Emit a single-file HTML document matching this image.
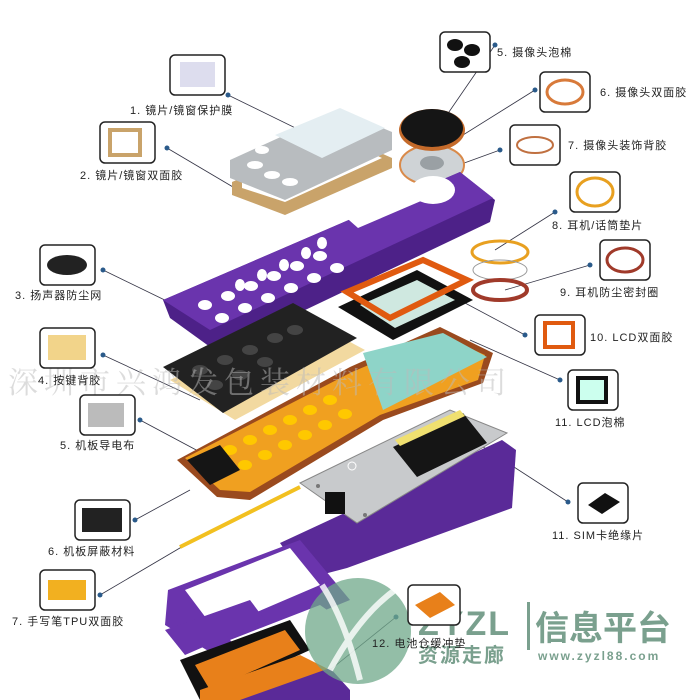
<!DOCTYPE html>
<html><head><meta charset="utf-8"><style>
body{margin:0;background:#fff;width:700px;height:700px;overflow:hidden}
svg{display:block}
text{font-family:"Liberation Sans","Noto Sans CJK SC",sans-serif;font-size:11px;fill:#222;letter-spacing:1px}
.b{fill:#fff;stroke:#222;stroke-width:1.5}
.l{stroke:#334;stroke-width:0.8;fill:none}
.d{fill:#2a5a8a}
</style></head><body>
<svg width="700" height="700" viewBox="0 0 700 700">
<g class="l">
<line x1="228" y1="95" x2="320" y2="140"/>
<line x1="167" y1="148" x2="255" y2="200"/>
<line x1="103" y1="270" x2="175" y2="305"/>
<line x1="103" y1="355" x2="200" y2="400"/>
<line x1="140" y1="420" x2="215" y2="460"/>
<line x1="135" y1="520" x2="190" y2="490"/>
<line x1="100" y1="595" x2="185" y2="545"/>
<line x1="495" y1="45" x2="440" y2="125"/>
<line x1="535" y1="90" x2="455" y2="140"/>
<line x1="500" y1="150" x2="445" y2="170"/>
<line x1="555" y1="212" x2="495" y2="250"/>
<line x1="590" y1="265" x2="505" y2="290"/>
<line x1="525" y1="335" x2="450" y2="295"/>
<line x1="560" y1="380" x2="470" y2="340"/>
<line x1="568" y1="502" x2="480" y2="445"/>
<line x1="396" y1="617" x2="330" y2="670"/>
</g>
<g class="d">
<circle cx="228" cy="95" r="2.5"/><circle cx="167" cy="148" r="2.5"/><circle cx="103" cy="270" r="2.5"/>
<circle cx="103" cy="355" r="2.5"/><circle cx="140" cy="420" r="2.5"/><circle cx="135" cy="520" r="2.5"/>
<circle cx="100" cy="595" r="2.5"/><circle cx="495" cy="45" r="2.5"/><circle cx="535" cy="90" r="2.5"/>
<circle cx="500" cy="150" r="2.5"/><circle cx="555" cy="212" r="2.5"/><circle cx="590" cy="265" r="2.5"/>
<circle cx="525" cy="335" r="2.5"/><circle cx="560" cy="380" r="2.5"/><circle cx="568" cy="502" r="2.5"/>
<circle cx="396" cy="617" r="2.5"/>
</g>

<polygon points="232,182 340,135 392,158 392,168 285,215 232,195" fill="#c9a36a"/>
<polygon points="242,180 340,138 382,158 285,202 242,188" fill="#fff"/>
<polygon points="230,160 340,110 392,132 392,150 285,200 230,178" fill="#b8bcbf"/>
<polygon points="275,135 340,108 385,128 322,158" fill="#e4eef2"/>
<g fill="#fff"><ellipse cx="255" cy="165" rx="8" ry="4"/><ellipse cx="272" cy="175" rx="8" ry="4"/><ellipse cx="290" cy="182" rx="8" ry="4"/><ellipse cx="262" cy="150" rx="7" ry="4"/></g>

<ellipse cx="432" cy="165" rx="32" ry="20" fill="#cfd3d6" stroke="#d98a4a" stroke-width="2"/>
<ellipse cx="432" cy="163" rx="12" ry="7" fill="#9aa0a4"/>
<ellipse cx="432" cy="130" rx="33" ry="21" fill="#c46a2a"/>
<ellipse cx="432" cy="128" rx="31" ry="19" fill="#151515"/>

<polygon points="163,300 460,172 495,200 490,222 217,352 170,318" fill="#4d2188"/>
<polygon points="163,300 460,172 493,198 210,330" fill="#6a34ad"/>
<polygon points="332,205 400,175 428,198 358,228" fill="#fff"/>
<ellipse cx="433" cy="190" rx="22" ry="14" fill="#fff"/>
<g fill="#fff">
<ellipse cx="205" cy="305" rx="7" ry="5"/><ellipse cx="228" cy="296" rx="7" ry="5"/><ellipse cx="251" cy="286" rx="7" ry="5"/><ellipse cx="274" cy="276" rx="7" ry="5"/><ellipse cx="297" cy="266" rx="7" ry="5"/><ellipse cx="320" cy="256" rx="7" ry="5"/>
<ellipse cx="222" cy="318" rx="7" ry="5"/><ellipse cx="245" cy="308" rx="7" ry="5"/><ellipse cx="268" cy="298" rx="7" ry="5"/><ellipse cx="291" cy="288" rx="7" ry="5"/><ellipse cx="314" cy="278" rx="7" ry="5"/><ellipse cx="337" cy="268" rx="7" ry="5"/>
<ellipse cx="240" cy="285" rx="5" ry="6"/><ellipse cx="262" cy="275" rx="5" ry="6"/><ellipse cx="284" cy="265" rx="5" ry="6"/><ellipse cx="306" cy="253" rx="5" ry="6"/><ellipse cx="322" cy="243" rx="5" ry="6"/>
</g>

<ellipse cx="500" cy="252" rx="28" ry="11" fill="none" stroke="#e8a020" stroke-width="3"/>
<ellipse cx="500" cy="270" rx="27" ry="10" fill="none" stroke="#999" stroke-width="1"/>
<ellipse cx="500" cy="290" rx="27" ry="10" fill="none" stroke="#a03a2a" stroke-width="4"/>

<polygon points="170,380 300,315 365,350 235,420" fill="#f2d9a0"/>
<polygon points="163,367 293,303 357,338 223,413" fill="#222"/>
<g fill="#444"><ellipse cx="200" cy="370" rx="8" ry="5"/><ellipse cx="225" cy="360" rx="8" ry="5"/><ellipse cx="250" cy="350" rx="8" ry="5"/><ellipse cx="275" cy="338" rx="8" ry="5"/><ellipse cx="215" cy="385" rx="8" ry="5"/><ellipse cx="240" cy="375" rx="8" ry="5"/><ellipse cx="265" cy="362" rx="8" ry="5"/><ellipse cx="295" cy="330" rx="8" ry="5"/></g>

<polygon points="338,307 417,270 473,300 393,340" fill="#111"/>
<polygon points="360,305 417,280 455,300 395,328" fill="#cfe8e0"/>
<polygon points="347,292 423,260 467,280 390,318" fill="none" stroke="#e05a10" stroke-width="6"/>

<polygon points="177,460 350,367 440,327 493,353 483,383 383,420 250,500 217,497" fill="#9a4a1e"/>
<polygon points="185,458 352,372 440,335 485,355 478,380 380,415 250,492 220,490" fill="#f0a020"/>
<polygon points="363,353 443,333 487,357 383,410" fill="#8ed4c8"/>
<g fill="#ffc800"><ellipse cx="230" cy="450" rx="7" ry="5"/><ellipse cx="250" cy="440" rx="7" ry="5"/><ellipse cx="270" cy="430" rx="7" ry="5"/><ellipse cx="290" cy="420" rx="7" ry="5"/><ellipse cx="310" cy="410" rx="7" ry="5"/><ellipse cx="330" cy="400" rx="7" ry="5"/><ellipse cx="245" cy="465" rx="7" ry="5"/><ellipse cx="265" cy="455" rx="7" ry="5"/><ellipse cx="285" cy="445" rx="7" ry="5"/><ellipse cx="305" cy="435" rx="7" ry="5"/><ellipse cx="325" cy="425" rx="7" ry="5"/><ellipse cx="345" cy="414" rx="7" ry="5"/></g>
<polygon points="187,460 220,445 240,470 210,485" fill="#151515"/>

<polygon points="280,543 502,440 516,450 512,508 347,568 305,579" fill="#5a2a98"/>
<polygon points="168,590 300,540 350,600 215,655 165,625" fill="#6a34ad"/>
<polygon points="185,590 290,548 320,585 215,630" fill="#fff"/>
<polygon points="165,630 250,600 265,620 185,655" fill="#6a34ad"/>
<polygon points="230,640 320,605 330,612 238,648" fill="#fff"/>
<polygon points="300,483 450,410 507,433 357,523" fill="#c8cacc" stroke="#888" stroke-width="1"/>
<polygon points="393,447 463,413 487,443 417,477" fill="#151515"/>
<polygon points="395,440 460,410 465,416 400,446" fill="#f0e070"/>
<circle cx="352" cy="466" r="4" fill="none" stroke="#fff"/><circle cx="318" cy="486" r="2" fill="#777"/><circle cx="365" cy="515" r="2" fill="#777"/>
<rect x="325" y="492" width="20" height="22" fill="#111"/>
<line x1="180" y1="547" x2="300" y2="487" stroke="#f2c020" stroke-width="4"/>
<polygon points="180,660 290,620 310,650 200,700" fill="#111"/>
<polygon points="195,665 285,630 300,650 210,690" fill="#e8801a"/>
<polygon points="200,690 300,655 330,670 320,700 200,700" fill="#e8801a"/>
<polygon points="240,700 330,668 350,690 350,700" fill="#5a2a98"/>

<text x="8" y="393" style="font-family:'Liberation Serif','Noto Serif CJK SC',serif;font-size:30px;fill:#bbb;opacity:.5;letter-spacing:6px">深圳市兴鸿发包装材料有限公司</text>

<circle cx="358" cy="631" r="53" fill="#6fa88a" opacity=".75"/>
<path d="M322,585 Q345,620 360,680 M395,590 Q360,615 330,670" stroke="#fff" stroke-width="6" fill="none" opacity=".8"/>
<text x="418" y="635" style="font-size:34px;font-weight:bold;fill:#7aa08e;letter-spacing:2px">ZYZL</text>
<rect x="527" y="602" width="3" height="48" fill="#7aa08e"/>
<text x="535" y="640" style="font-size:34px;font-weight:bold;fill:#7aa08e;letter-spacing:0">信息平台</text>
<text x="538" y="660" style="font-size:12px;font-weight:bold;fill:#7aa08e;letter-spacing:2px">www.zyzl88.com</text>
<text x="418" y="662" style="font-size:20px;font-weight:bold;fill:#7aa08e;letter-spacing:2px">资源走廊</text>

<rect class="b" x="170" y="55" width="55" height="40" rx="5"/><rect x="180" y="62" width="35" height="25" fill="#dde"/>
<rect class="b" x="100" y="122" width="55" height="41" rx="5"/><rect x="110" y="130" width="30" height="25" fill="none" stroke="#c9a36a" stroke-width="4"/>
<rect class="b" x="40" y="245" width="55" height="40" rx="5"/><ellipse cx="67" cy="265" rx="20" ry="10" fill="#222"/>
<rect class="b" x="40" y="328" width="55" height="40" rx="5"/><rect x="48" y="335" width="38" height="25" fill="#f2d48a"/>
<rect class="b" x="80" y="395" width="55" height="40" rx="5"/><rect x="88" y="403" width="36" height="24" fill="#bbb"/>
<rect class="b" x="75" y="500" width="55" height="40" rx="5"/><rect x="82" y="508" width="40" height="24" fill="#222"/>
<rect class="b" x="40" y="570" width="55" height="40" rx="5"/><rect x="48" y="580" width="38" height="20" fill="#f2b020"/>
<rect class="b" x="440" y="32" width="50" height="40" rx="5"/><ellipse cx="455" cy="45" rx="8" ry="6" fill="#111"/><ellipse cx="472" cy="50" rx="8" ry="6" fill="#111"/><ellipse cx="462" cy="62" rx="8" ry="6" fill="#111"/>
<rect class="b" x="540" y="72" width="50" height="40" rx="5"/><ellipse cx="565" cy="92" rx="18" ry="12" fill="none" stroke="#d87a3a" stroke-width="3"/>
<rect class="b" x="510" y="125" width="50" height="40" rx="5"/><ellipse cx="535" cy="145" rx="18" ry="8" fill="none" stroke="#c07040" stroke-width="2"/>
<rect class="b" x="570" y="172" width="50" height="40" rx="5"/><ellipse cx="595" cy="192" rx="18" ry="14" fill="none" stroke="#e8a020" stroke-width="3"/>
<rect class="b" x="600" y="240" width="50" height="40" rx="5"/><ellipse cx="625" cy="260" rx="18" ry="12" fill="none" stroke="#a03a2a" stroke-width="3"/>
<rect class="b" x="535" y="315" width="50" height="40" rx="5"/><rect x="545" y="323" width="28" height="24" fill="none" stroke="#e05a10" stroke-width="4"/>
<rect class="b" x="568" y="370" width="50" height="40" rx="5"/><rect x="578" y="378" width="28" height="24" fill="#cfe" stroke="#111" stroke-width="4"/>
<rect class="b" x="578" y="483" width="50" height="40" rx="5"/><polygon points="588,505 605,493 620,502 602,514" fill="#111"/>
<rect class="b" x="408" y="585" width="52" height="40" rx="5"/><polygon points="415,605 440,592 455,605 430,618" fill="#e8801a"/>

<text x="130" y="114">1. 镜片/镜窗保护膜</text>
<text x="80" y="179">2. 镜片/镜窗双面胶</text>
<text x="15" y="299">3. 扬声器防尘网</text>
<text x="38" y="384">4. 按键背胶</text>
<text x="60" y="449">5. 机板导电布</text>
<text x="48" y="555">6. 机板屏蔽材料</text>
<text x="12" y="625">7. 手写笔TPU双面胶</text>
<text x="497" y="56">5. 摄像头泡棉</text>
<text x="600" y="96">6. 摄像头双面胶</text>
<text x="568" y="149">7. 摄像头装饰背胶</text>
<text x="552" y="229">8. 耳机/话筒垫片</text>
<text x="560" y="296">9. 耳机防尘密封圈</text>
<text x="590" y="341">10. LCD双面胶</text>
<text x="555" y="426">11. LCD泡棉</text>
<text x="552" y="539">11. SIM卡绝缘片</text>
<text x="372" y="647">12. 电池仓缓冲垫</text>
</svg>
</body></html>
